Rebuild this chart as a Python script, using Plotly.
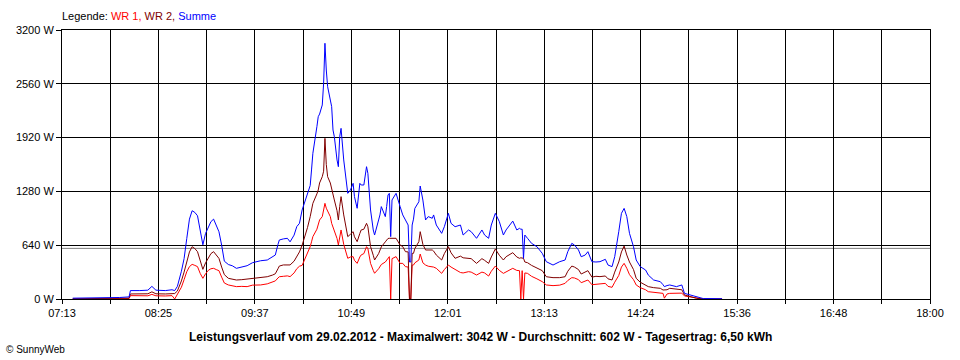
import plotly.graph_objects as go

# ---- data ----
times = ["07:21","07:41","07:56","08:03","08:04","08:11","08:17","08:20","08:23","08:30","08:35","08:37","08:39","08:42","08:44","08:46","08:48","08:50","08:52","08:54","08:56","08:58","09:00","09:02","09:04","09:06","09:08","09:10","09:12","09:14","09:17","09:20","09:23","09:27","09:31","09:35","09:41","09:46","09:50","09:52","09:54","09:55","09:58","10:01","10:03","10:06","10:08","10:10","10:12","10:14","10:16","10:18","10:19","10:20","10:23","10:24","10:25","10:27","10:28","10:29","10:30","10:31","10:33","10:34","10:35","10:36","10:38","10:39","10:40","10:41","10:43","10:44","10:45","10:46","10:48","10:50","10:51","10:53","10:55","10:56","10:58","11:00","11:01","11:03","11:05","11:06","11:09","11:10","11:11","11:14","11:15","11:16","11:17","11:18","11:19","11:22","11:25","11:27","11:29","11:31","11:32","11:33","11:34","11:35","11:36","11:39","11:40","11:42","11:44","11:46","11:49","11:50","11:52","11:56","11:58","12:01","12:03","12:06","12:10","12:12","12:16","12:18","12:22","12:26","12:28","12:31","12:33","12:36","12:39","12:42","12:44","12:47","12:49","12:52","12:54","12:55","12:56","12:57","12:58","13:00","13:03","13:07","13:11","13:14","13:19","13:24","13:28","13:30","13:33","13:35","13:38","13:40","13:43","13:45","13:48","13:51","13:54","13:58","14:00","14:03","14:05","14:08","14:10","14:12","14:14","14:16","14:19","14:21","14:24","14:28","14:30","14:34","14:39","14:41","14:42","14:44","14:46","14:51","14:54","14:55","14:57","15:01","15:06","15:11","15:16","15:25"]

summe = [10,12,18,25,100,100,105,150,105,100,110,100,150,330,480,720,950,1050,1030,990,820,645,780,860,920,950,880,800,640,450,410,395,365,380,396,432,455,464,510,523,650,702,715,722,680,760,861,900,1059,1158,1257,1350,1535,1733,2050,2169,2200,2308,2566,3042,2724,2526,2367,2288,2010,1931,1654,1574,1931,2030,1654,1495,1376,1257,1297,1376,1218,1079,1376,1356,1356,1574,1495,1059,821,761,940,1000,1099,980,1100,1237,1257,742,1178,1257,1100,1000,940,880,440,440,880,950,1078,1157,1344,1177,940,980,960,1000,880,781,860,1019,900,860,880,761,821,801,722,821,761,722,880,1019,920,761,821,880,927,821,841,830,830,484,761,722,662,622,543,444,404,444,464,563,662,642,583,503,523,563,444,440,444,472,404,385,504,801,1019,1078,980,781,622,464,385,345,285,226,206,170,147,160,167,147,165,167,67,48,28,5,5,3]

wr2 = [3,3,8,10,60,60,62,85,62,60,65,65,95,215,320,440,560,622,600,563,444,353,430,490,540,563,520,483,380,290,246,235,226,230,238,250,254,265,285,300,360,392,405,405,405,450,500,560,640,740,850,980,1050,1138,1250,1297,1380,1455,1520,1911,1600,1455,1380,1297,1230,1178,1050,940,1100,1218,1000,900,820,742,770,801,740,682,780,821,830,900,860,623,520,464,540,583,620,680,702,720,722,722,720,722,642,623,563,560,0,0,543,543,600,682,801,650,583,583,583,570,523,464,540,622,550,484,510,490,484,480,424,480,460,424,500,595,520,464,503,530,551,500,484,490,490,484,440,432,400,370,337,265,254,254,265,330,392,380,350,297,320,337,260,270,266,274,240,226,320,440,560,630,523,440,350,246,200,170,147,135,127,107,107,110,127,120,115,110,48,28,8,0,0,0]

wr1 = [0,0,3,5,40,36,38,55,38,36,40,0,57,140,230,325,385,412,400,385,305,246,300,340,360,365,350,337,260,190,167,160,147,150,147,165,167,180,206,215,250,265,270,275,266,310,360,390,400,470,560,623,680,742,830,880,940,980,1060,1138,1080,1039,980,900,860,821,720,643,760,821,650,603,540,484,500,504,460,424,500,524,540,623,600,424,340,306,360,385,410,440,464,480,504,0,480,504,424,424,385,380,0,0,404,404,430,464,535,430,404,390,385,380,365,305,350,404,380,353,315,310,325,320,285,320,310,273,330,392,340,305,325,350,365,340,337,0,337,0,310,305,270,240,206,167,159,165,186,220,254,250,230,194,210,226,170,175,178,186,150,139,200,280,380,424,365,290,230,167,135,110,87,80,75,67,10,60,67,70,75,70,36,28,10,0,0,0]

tick_labels = ["07:13","08:25","09:37","10:49","12:01","13:13","14:24","15:36","16:48","18:00"]
y_ticks = [0, 640, 1280, 1920, 2560, 3200]
average = 602
title_text = "Leistungsverlauf vom 29.02.2012 - Maximalwert: 3042 W - Durchschnitt: 602 W - Tagesertrag: 6,50 kWh"


def to_min(s):
    h, m = s.split(":")
    return int(h) * 60 + int(m)


x = [to_min(t) for t in times]
x0 = to_min(tick_labels[0])
x1 = to_min(tick_labels[-1])
n_int = (len(tick_labels) - 1) * 2
tickvals = [x0 + (x1 - x0) * i / n_int for i in range(n_int + 1)]
ticktext = []
for i in range(n_int + 1):
    ticktext.append(tick_labels[i // 2] if i % 2 == 0 else "")

FONT = "Liberation Sans, Arial, sans-serif"

fig = go.Figure()
fig.add_trace(go.Scatter(x=x, y=wr1, mode="lines", line=dict(color="#FF0000", width=1), name="WR 1"))
fig.add_trace(go.Scatter(x=x, y=wr2, mode="lines", line=dict(color="#800000", width=1), name="WR 2"))
fig.add_trace(go.Scatter(x=x, y=summe, mode="lines", line=dict(color="#0000FF", width=1), name="Summe"))

# average line
fig.add_shape(type="line", xref="paper", x0=0, x1=1, yref="y", y0=average, y1=average,
              line=dict(color="#808080", width=1), layer="below")

fig.update_layout(
    width=960, height=360,
    margin=dict(l=62, r=30, t=30, b=61),
    paper_bgcolor="white", plot_bgcolor="white",
    showlegend=False,
    font=dict(family=FONT, size=11, color="black"),
    xaxis=dict(range=[x0, x1], tickmode="array", tickvals=tickvals, ticktext=ticktext,
               showgrid=True, gridcolor="black", gridwidth=1,
               showline=True, linecolor="black", linewidth=1, mirror=True,
               ticks="outside", ticklen=4, tickcolor="black", zeroline=False,
               tickfont=dict(family=FONT, size=11, color="black")),
    yaxis=dict(range=[0, 3200], tickmode="array", tickvals=y_ticks,
               ticktext=[f"{v} W" for v in y_ticks],
               showgrid=True, gridcolor="black", gridwidth=1,
               showline=True, linecolor="black", linewidth=1, mirror=True,
               ticks="outside", ticklen=5, tickcolor="black", zeroline=False,
               tickfont=dict(family=FONT, size=11, color="black")),
)

fig.add_annotation(xref="paper", yref="paper", x=(60 - 62) / 868, y=(299 - 16) / 269,
                   xanchor="left", yanchor="middle", showarrow=False,
                   text="Legende: <span style='color:#FF0000'>WR 1,</span> "
                        "<span style='color:#800000'>WR 2,</span> "
                        "<span style='color:#0000FF'>Summe</span>",
                   font=dict(family=FONT, size=11, color="black"))
fig.add_annotation(xref="paper", yref="paper", x=(480 - 62) / 868, y=(299 - 337) / 269,
                   xanchor="center", yanchor="middle", showarrow=False,
                   text="<b>" + title_text + "</b>",
                   font=dict(family=FONT, size=12, color="black"))
fig.add_annotation(xref="paper", yref="paper", x=(4 - 62) / 868, y=(299 - 349) / 269,
                   xanchor="left", yanchor="middle", showarrow=False,
                   text="© SunnyWeb",
                   font=dict(family=FONT, size=10, color="black"))

fig.write_html("out.html", config={"displayModeBar": False},
               post_script="document.body.style.margin='0px';")
